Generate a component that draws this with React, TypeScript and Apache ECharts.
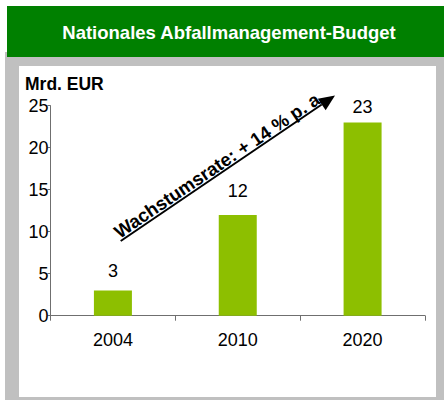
import React, { useEffect, useRef } from "react";
import * as echarts from "echarts";

const categories = ["2004", "2010", "2020"];
const values = [3, 12, 23];
const yTicks = { min: 0, max: 25, interval: 5 };
const titleText = "Nationales Abfallmanagement-Budget";
const unitText = "Mrd. EUR";
const growthText = "Wachstumsrate: + 14 % p. a.";

const FONT = '"Liberation Sans", Arial, sans-serif';
const BAR = "#8dbf00";
const labelGaps = [10.5, 14.8, 7];

export default function App() {
  const ref = useRef<HTMLDivElement>(null);
  useEffect(() => {
    if (!ref.current) return;
    const chart = echarts.init(ref.current, null, { renderer: "svg" });
    const ang = Math.atan2(145, 214.3);
    const tip = [335, 95.5];
    const start = [120.7, 241];
    const ux = Math.cos(ang), uy = -Math.sin(ang);
    const nx = -Math.sin(ang), ny = -Math.cos(ang);
    const hl = 16, hw = 7;
    const bx = tip[0] - hl * ux, by = tip[1] - hl * uy;
    const midT = 124.5;
    const off = 8.8;
    const tcx = start[0] + midT * ux + off * nx;
    const tcy = start[1] + midT * uy + off * ny;
    chart.setOption({
      animation: false,
      grid: { left: 50.5, right: 19, top: 105.7, bottom: 84.3 },
      xAxis: {
        type: "category",
        data: categories,
        axisLine: { lineStyle: { color: "#6f6f6f", width: 1 } },
        axisTick: { show: true, length: 5, lineStyle: { color: "#6f6f6f" } },
        axisLabel: { color: "#000", fontSize: 18, fontFamily: FONT, margin: 15.5 },
      },
      yAxis: {
        type: "value",
        min: yTicks.min,
        max: yTicks.max,
        interval: yTicks.interval,
        splitLine: { show: false },
        axisLine: { show: true, lineStyle: { color: "#6f6f6f", width: 1 } },
        axisTick: { show: true, length: 3, lineStyle: { color: "#6f6f6f" } },
        axisLabel: { color: "#000", fontSize: 18, fontFamily: FONT, margin: 2 },
      },
      series: [
        {
          type: "bar",
          barWidth: 38,
          itemStyle: { color: BAR },
          data: values.map((v, i) => ({
            value: v,
            label: { distance: labelGaps[i] },
          })),
          label: {
            show: true,
            position: "top",
            color: "#000",
            fontSize: 18,
            fontFamily: FONT,
          },
        },
      ],
      graphic: [
        { type: "rect", z: -10, silent: true, shape: { x: 5, y: 52, width: 439, height: 348 }, style: { fill: "#c0c0c0" } },
        { type: "rect", z: -9, silent: true, shape: { x: 19, y: 66, width: 417, height: 331 }, style: { fill: "#ffffff" } },
        { type: "rect", z: -8, silent: true, shape: { x: 7, y: 6, width: 437, height: 51 }, style: { fill: "#008000" } },
        {
          type: "text",
          x: 229,
          y: 32,
          style: { text: titleText, fill: "#fff", font: `bold 18.5px ${FONT}`, align: "center", verticalAlign: "middle" },
        },
        {
          type: "text",
          x: 25,
          y: 83.5,
          style: { text: unitText, fill: "#000", font: `bold 17.5px ${FONT}`, align: "left", verticalAlign: "middle" },
        },
        {
          type: "text",
          x: tcx,
          y: tcy,
          rotation: ang,
          style: { text: growthText, fill: "#000", font: `bold 18.5px ${FONT}`, align: "center", verticalAlign: "middle" },
        },
        {
          type: "line",
          shape: { x1: start[0], y1: start[1], x2: bx, y2: by },
          style: { stroke: "#000", lineWidth: 2 },
        },
        {
          type: "polygon",
          shape: {
            points: [
              [tip[0], tip[1]],
              [bx + hw * nx, by + hw * ny],
              [bx - hw * nx, by - hw * ny],
            ],
          },
          style: { fill: "#000" },
        },
      ],
    });
    return () => chart.dispose();
  }, []);
  return <div ref={ref} style={{ position: "absolute", left: 0, top: 0, width: 444, height: 400 }} />;
}
